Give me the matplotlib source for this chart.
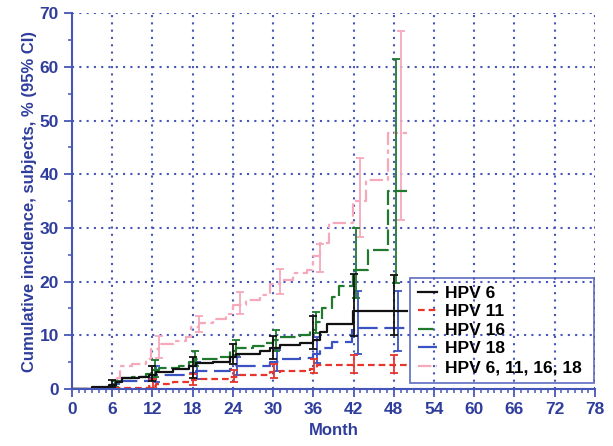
import numpy as np
import matplotlib
matplotlib.use("Agg")
import matplotlib.pyplot as plt
from matplotlib.ticker import MultipleLocator

plt.rcParams['font.family'] = ['Liberation Sans', 'DejaVu Sans']

# Kaplan-Meier style step curves (month, cumulative %)
months_black = [0, 3, 5.5, 6.5, 7.5, 10, 11.5, 12.5, 15, 17.5, 18.5, 21, 23.5, 24.5, 28, 29.5, 31, 34, 36, 37, 38, 41.9, 50]
vals_black = [0, 0.3, 0.8, 1.3, 2.0, 2.2, 2.6, 3.2, 3.7, 4.2, 4.8, 5.0, 6.0, 6.6, 7.0, 7.6, 8.2, 8.5, 9.1, 10.7, 12.1, 14.6, 14.6]

months_red = [0, 6.5, 11.5, 12.5, 15, 17.5, 18.5, 23.5, 25, 29.5, 31, 35.5, 36.5, 50]
vals_red = [0, 0.2, 0.6, 1.0, 1.2, 1.7, 1.9, 2.3, 2.6, 3.2, 3.4, 3.8, 4.5, 4.5]

months_green = [0, 5.5, 6.5, 7, 9, 11, 11.8, 13, 16, 17.5, 18.5, 22, 23.5, 24.5, 27, 29, 30, 31, 34,
                35.5, 36.4, 37.3, 38.8, 39.8, 41.9, 44.1, 47.1, 50]
vals_green = [0, 0.5, 1.5, 2.0, 2.3, 2.8, 3.5, 3.9, 4.2, 5.0, 5.6, 6.0, 7.0, 7.6, 8.0, 8.6, 9.1, 9.6, 10.1,
              11.0, 12.5, 15.1, 17.2, 19.1, 22.2, 25.9, 36.8, 36.8]

months_blue = [0, 5.5, 6.5, 7, 11.5, 12.5, 17.5, 18.5, 23.5, 24.5, 29.5, 31, 34, 36, 37, 38.8, 41.8, 50]
vals_blue = [0, 0.3, 0.8, 1.4, 2.0, 2.6, 3.0, 3.4, 3.8, 4.2, 5.1, 5.5, 5.7, 6.6, 7.6, 8.8, 11.3, 11.3]

months_pink = [0, 6.3, 6.7, 7.2, 9, 11, 11.8, 13, 15, 17, 17.8, 19, 21, 23, 24, 26, 28, 29.5, 31, 33, 35,
               36, 37.0, 38.3, 41.9, 43.9, 47.1, 49.9]
vals_pink = [0, 0.8, 2.0, 4.2, 4.6, 5.5, 7.5, 8.4, 9.0, 9.6, 11.5, 12.2, 13.0, 14.0, 15.7, 16.5, 17.5, 19.5,
             20.3, 21.6, 22.2, 24.7, 27.2, 31.0, 35.0, 39.0, 47.7, 47.7]

# 95% CI at 6-month visits
ci_months = [6, 12, 18, 24, 30, 36, 42, 48]
lo_black = [0.4, 1.4, 2.0, 4.6, 5.6, 7.5, 9.9, 10.1]
hi_black = [1.6, 4.2, 6.0, 8.3, 9.8, 13.5, 21.5, 21.3]
lo_red = [np.nan, 0.2, 0.8, 1.3, 2.0, 2.9, 2.9, 2.9]
hi_red = [np.nan, 1.8, 2.8, 3.6, 4.6, 5.6, 6.3, 6.3]
lo_green = [0.3, 2.3, 4.2, 6.3, 7.1, 10.4, 17.0, 19.8]
hi_green = [1.5, 5.4, 7.0, 9.1, 11.0, 14.4, 30.0, 61.5]
lo_blue = [0.1, 1.2, 1.8, 2.6, 3.4, 4.8, 6.6, 7.0]
hi_blue = [1.0, 4.2, 5.1, 6.0, 7.2, 9.6, 18.2, 18.2]
lo_pink = [np.nan, 5.8, 10.7, 13.9, 17.7, 21.8, 28.4, 31.5]
hi_pink = [np.nan, 9.9, 13.6, 18.0, 22.4, 27.0, 43.1, 66.7]

labels = ["HPV 6", "HPV 11", "HPV 16", "HPV 18", "HPV 6, 11, 16, 18"]

navy = '#2f3d9c'
axis_blue = '#4656b8'

fig = plt.figure(figsize=(6.13, 4.46), dpi=100)
ax = fig.add_axes([0.1175, 0.128, 0.853, 0.842])

series = [
    (months_black, vals_black, lo_black, hi_black, '#111111', '-', 0.0),
    (months_red, vals_red, lo_red, hi_red, '#e8352b', (0, (3, 1.8)), 0.1),
    (months_green, vals_green, lo_green, hi_green, '#1f7a2e', (0, (7, 2)), 0.4),
    (months_blue, vals_blue, lo_blue, hi_blue, '#3b53c2', (0, (9, 3)), 0.6),
    (months_pink, vals_pink, lo_pink, hi_pink, '#f5a9bb', (0, (6, 2, 2, 2)), 1.0),
]

# draw pink first so others sit on top
for m, v, lo, hi, c, ls, off in reversed(series):
    ax.step(m, v, where='post', color=c, linestyle=ls, linewidth=1.6)
    lo = np.array(lo)
    hi = np.array(hi)
    x = np.array(ci_months) + off
    ax.errorbar(x, (lo + hi) / 2, yerr=(hi - lo) / 2, fmt='none', ecolor=c,
                elinewidth=1.3, capsize=3, capthick=1.3)

handles = []
for m, v, lo, hi, c, ls, off in series:
    h, = ax.plot([], [], color=c, linestyle=ls, linewidth=1.6)
    handles.append(h)

ax.set_xlim(0, 78)
ax.set_ylim(0, 70)
ax.xaxis.set_major_locator(MultipleLocator(6))
ax.xaxis.set_minor_locator(MultipleLocator(1))
ax.yaxis.set_major_locator(MultipleLocator(10))
ax.yaxis.set_minor_locator(MultipleLocator(5))

for s in ['top', 'right']:
    ax.spines[s].set_visible(False)
for s in ['left', 'bottom']:
    ax.spines[s].set_color(axis_blue)
    ax.spines[s].set_linewidth(1.5)

ax.tick_params(which='major', direction='out', length=6, width=1.3, color=axis_blue,
               labelcolor=navy, labelsize=12.5)
ax.tick_params(which='minor', direction='out', length=3, width=1.1, color=axis_blue)
for t in ax.get_xticklabels() + ax.get_yticklabels():
    t.set_fontweight('bold')

ax.grid(which='major', color=axis_blue, linestyle=(0, (1, 2.5)), linewidth=1.5)
ax.set_axisbelow(True)

ax.set_xlabel("Month", fontsize=12, fontweight='bold', color=navy, labelpad=4)
ax.set_ylabel("Cumulative incidence, subjects, % (95% CI)", fontsize=12,
              fontweight='bold', color=navy, labelpad=2)

leg = ax.legend(handles, labels, loc='lower left', bbox_to_anchor=(0.646, 0.016, 0.352, 0.293),
                mode='expand', borderaxespad=0, frameon=True, fancybox=False, handlelength=1.1,
                handletextpad=0.5, labelspacing=0.2, borderpad=0.45,
                prop={'weight': 'bold', 'size': 12.5})
leg.get_frame().set_edgecolor(axis_blue)
leg.get_frame().set_linewidth(1.3)
leg.get_frame().set_facecolor('none')

fig.savefig("out.png", dpi=100)
